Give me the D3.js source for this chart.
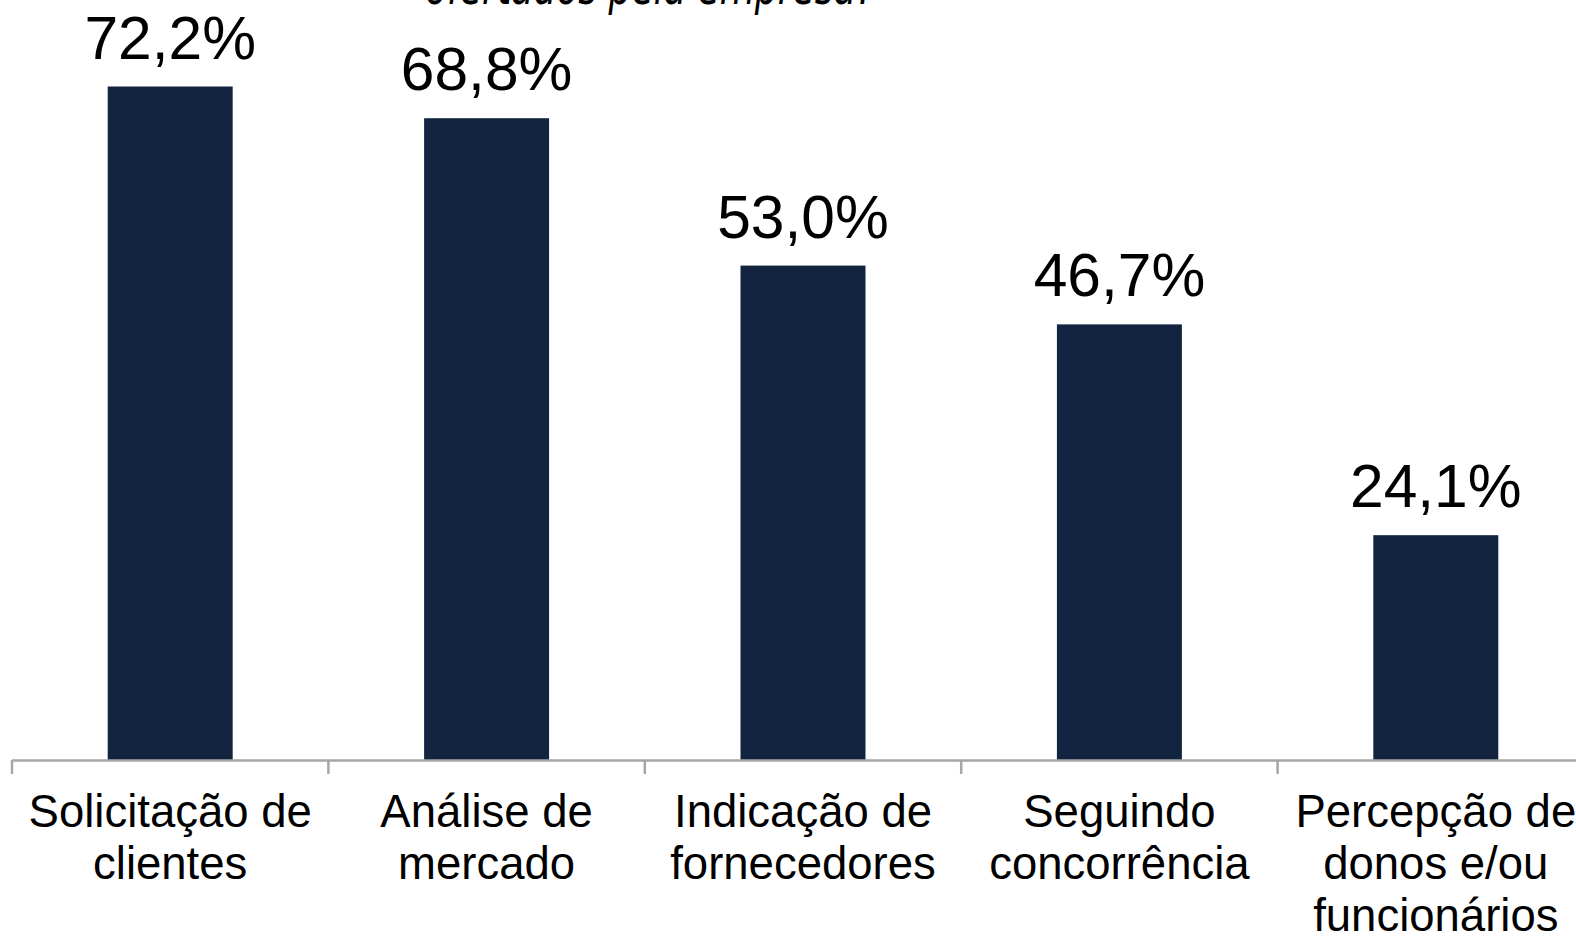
<!DOCTYPE html>
<html><head><meta charset="utf-8">
<script src="https://cdn.jsdelivr.net/npm/d3@7"></script>
<style>html,body{margin:0;padding:0;background:#fff;overflow:hidden}</style>
</head><body>
<svg id="c" width="1576" height="937"></svg>
<script>
const titleText = "ofertados pela empresa?";
const categories = [
  ["Solicitação de", "clientes"],
  ["Análise de", "mercado"],
  ["Indicação de", "fornecedores"],
  ["Seguindo", "concorrência"],
  ["Percepção de", "donos e/ou", "funcionários"]
];
const values = [72.2, 68.8, 53.0, 46.7, 24.1];
const valueLabels = ["72,2%", "68,8%", "53,0%", "46,7%", "24,1%"];

const svg = d3.select("#c");
const keys = categories.map((d, i) => i);
const x = d3.scaleBand().domain(keys).range([12, 1594]).paddingInner(0.605).paddingOuter(0.3025);
const y = d3.scaleLinear().domain([0, 72.2]).range([760, 86.5]);
const step = x.step();

// title (cut off at top)
svg.append("text").attr("x", 425).attr("y", 4)
  .attr("textLength", 450).attr("lengthAdjust", "spacingAndGlyphs")
  .style("font-family", "'DejaVu Sans', sans-serif").style("font-style", "italic")
  .style("font-size", "52px").attr("fill", "#000").text(titleText);

// bars
svg.selectAll("rect.bar").data(values).join("rect").attr("class", "bar")
  .attr("x", (d, i) => x(i)).attr("width", x.bandwidth())
  .attr("y", d => y(d)).attr("height", d => y(0) - y(d))
  .attr("fill", "#12243f");

// value labels
svg.selectAll("text.val").data(values).join("text").attr("class", "val")
  .attr("x", (d, i) => x(i) + x.bandwidth() / 2).attr("y", d => y(d) - 28)
  .attr("text-anchor", "middle")
  .style("font-family", "'Liberation Sans', Arial, sans-serif").style("font-size", "60.5px")
  .attr("fill", "#000").text((d, i) => valueLabels[i]);

// axis
const axisG = svg.append("g");
axisG.append("line").attr("x1", 12).attr("x2", 1576).attr("y1", 760.5).attr("y2", 760.5)
  .attr("stroke", "#a6a6a6").attr("stroke-width", 2.5);
const bounds = keys.map(i => x(i) - step * x.paddingInner() / 2).concat([x(4) + x.bandwidth() + step * x.paddingInner() / 2]);
axisG.selectAll("line.tick").data(bounds).join("line").attr("class", "tick")
  .attr("x1", d => d).attr("x2", d => d).attr("y1", 760).attr("y2", 774)
  .attr("stroke", "#a6a6a6").attr("stroke-width", 2.5);

// category labels
const catG = svg.selectAll("text.cat").data(categories).join("text").attr("class", "cat")
  .attr("text-anchor", "middle")
  .style("font-family", "'Liberation Sans', Arial, sans-serif").style("font-size", "45.5px")
  .attr("fill", "#000");
catG.each(function(lines, i) {
  const t = d3.select(this);
  lines.forEach((l, j) => {
    t.append("tspan").attr("x", x(i) + x.bandwidth() / 2).attr("y", 827 + j * 52).text(l);
  });
});
</script>
</body></html>
